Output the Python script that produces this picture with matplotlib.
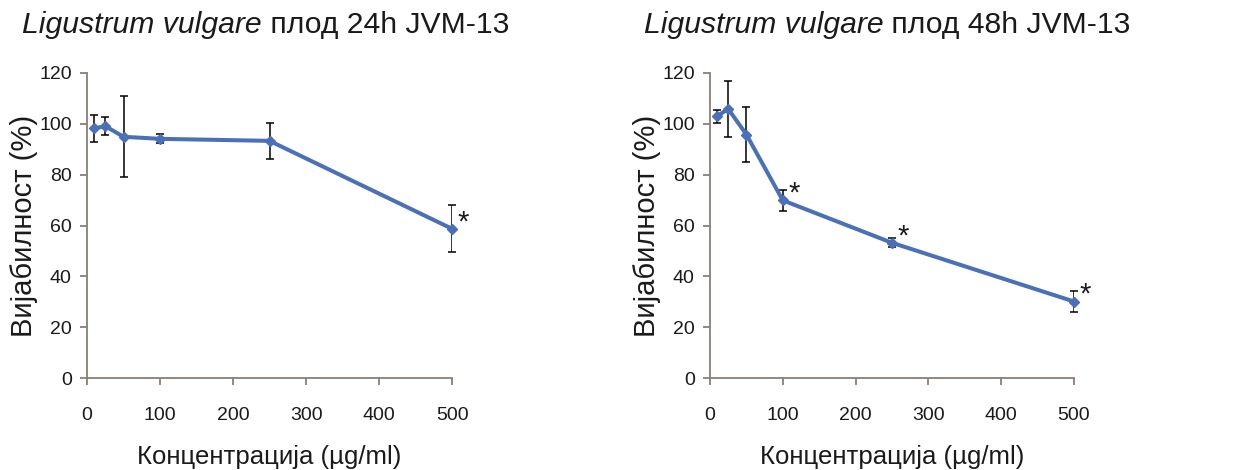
import numpy as np
import matplotlib.pyplot as plt

plt.rcParams['font.family'] = ['Liberation Sans', 'DejaVu Sans']

conc = [10, 25, 50, 100, 250, 500]

via_24h = [98.2, 99.1, 94.9, 94.1, 93.3, 58.7]
err_24h = [5.2, 3.4, 16.0, 1.8, 7.0, 9.2]
sig_24h = [False, False, False, False, False, True]

via_48h = [103.0, 105.9, 95.8, 69.9, 53.2, 30.1]
err_48h = [2.6, 11.0, 10.7, 4.2, 1.8, 4.0]
sig_48h = [False, False, False, True, True, True]

titles = ['24h', '48h']
x_ticks = [0, 100, 200, 300, 400, 500]
y_ticks = [0, 20, 40, 60, 80, 100, 120]

line_col = '#4a70b8'
axis_col = '#8a7f77'
txt_col = '#1a1a1a'

fig = plt.figure(figsize=(12.41, 4.70), dpi=100)
ax_pos = [[0.0701, 0.1957, 0.2942, 0.6490], [0.5721, 0.1957, 0.2933, 0.6490]]


def draw_panel(ax, vals, errs, sig):
    ax.errorbar(conc, vals, yerr=errs, color=line_col, lw=2.9, marker='D', ms=5.5,
                ecolor='black', elinewidth=1.1, capsize=2.7, capthick=1.1, zorder=3)
    # significance stars, a bit right of and above each point
    for xv, yv, s in zip(conc, vals, sig):
        if s:
            ax.annotate('*', (xv, yv), xytext=(8, -1), textcoords='offset points',
                        fontsize=21, ha='center', va='baseline', color=txt_col)
    ax.set_xlim(0, 500)
    ax.set_ylim(0, 120)
    ax.set_xticks(x_ticks)
    ax.set_yticks(y_ticks)
    for s in ['top', 'right']:
        ax.spines[s].set_visible(False)
    for s in ['left', 'bottom']:
        ax.spines[s].set_color(axis_col)
        ax.spines[s].set_linewidth(1.3)
    ax.tick_params(direction='out', length=5, width=1.3, color=axis_col,
                   labelsize=14, labelcolor=txt_col, pad=6)
    ax.tick_params(axis='x', pad=16)
    ax.set_xlabel('Концентрација (µg/ml)', fontsize=18.5, color=txt_col, labelpad=15)
    ax.set_ylabel('Вијабилност (%)', fontsize=21, color=txt_col, labelpad=1)


data = [(via_24h, err_24h, sig_24h), (via_48h, err_48h, sig_48h)]
for pos, (v, e, s) in zip(ax_pos, data):
    ax = fig.add_axes(pos)
    draw_panel(ax, v, e, s)
    for ln in ax.lines:
        ln.set_clip_on(False)

# titles: italic species name + upright rest
title_x = [266 / 1241, 887 / 1241]
fig.canvas.draw()
renderer = fig.canvas.get_renderer()
for tx, t in zip(title_x, titles):
    t1 = fig.text(0, 0.93, 'Ligustrum vulgare', fontsize=21.7, style='italic',
                  ha='left', va='baseline', color=txt_col)
    t2 = fig.text(0, 0.93, ' плод ' + t + ' JVM-13', fontsize=21.7,
                  ha='left', va='baseline', color=txt_col)
    w1 = t1.get_window_extent(renderer).width / fig.bbox.width
    w2 = t2.get_window_extent(renderer).width / fig.bbox.width
    x0 = tx - (w1 + w2) / 2
    t1.set_x(x0)
    t2.set_x(x0 + w1)

fig.savefig('out.png', dpi=100)
